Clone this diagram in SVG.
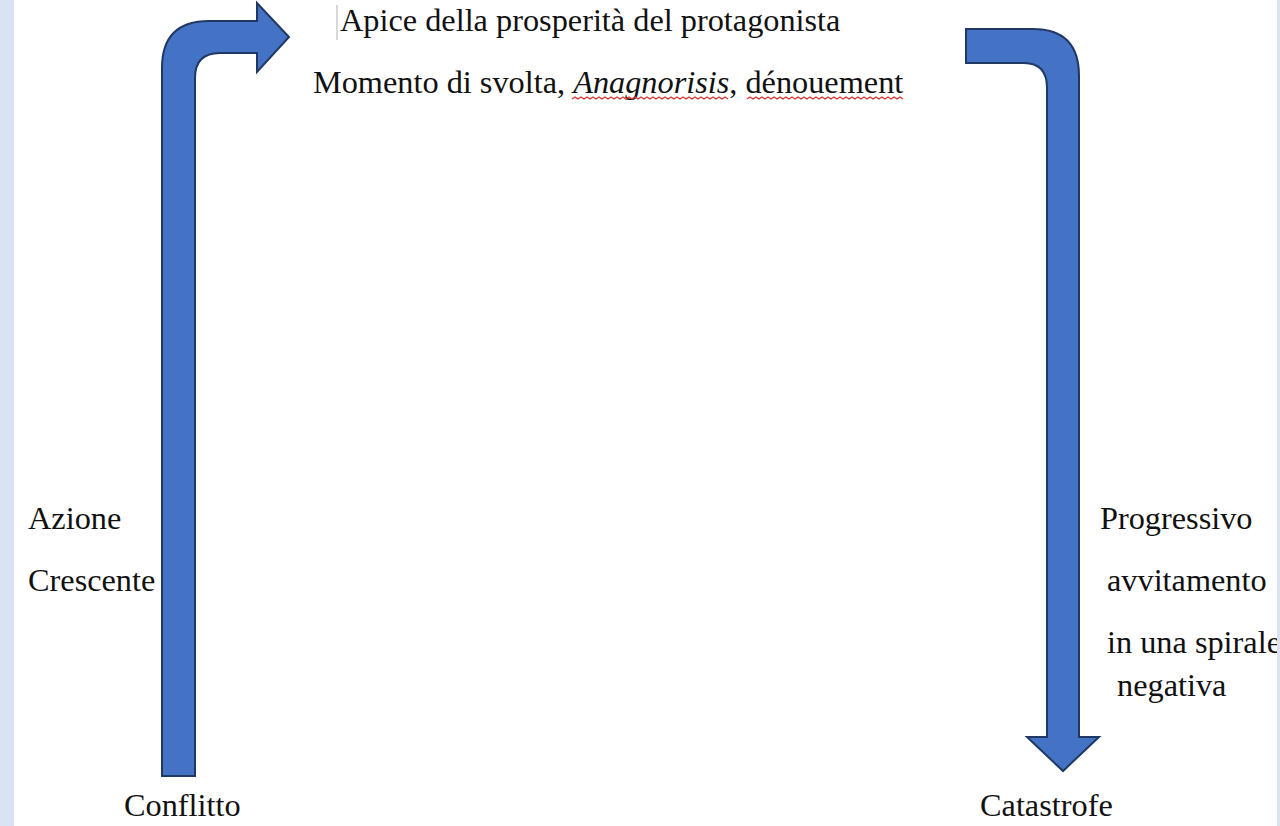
<svg xmlns="http://www.w3.org/2000/svg" width="1280" height="826" viewBox="0 0 1280 826">
<style>
.t{font-family:"Liberation Serif","Times New Roman","DejaVu Serif",serif;font-size:32.3px;fill:#111}
.arrow{fill:#4472C4;stroke:#1F3864;stroke-width:2;stroke-linejoin:miter}
.sq{fill:none;stroke:#E03030;stroke-width:1.2}
.strip{fill:#DAE3F3}
</style>
<rect x="0" y="0" width="1280" height="826" fill="#FFFFFF"/>
<rect class="strip" x="0" y="0" width="14" height="826"/>
<g id="connectors">
<g id="arrow-rise">
<path class="arrow" d="M162,776 L162,68 Q162,21 209,21 L257,21 L257,3 L289,37 L257,72 L257,53 L220,53 Q195,53 195,78 L195,776 Z"/>
</g>
<g id="arrow-fall">
<path class="arrow" d="M966,29 L1033,29 Q1079,29 1079,76 L1079,737 L1099,737 L1063,771 L1027,737 L1047,737 L1047,88 Q1047,63 1024,63 L966,63 Z"/>
</g>
</g>
<g id="node-apice">
<line x1="337" y1="5" x2="337" y2="40" stroke="#B0B0B0" stroke-width="1"/>
<text class="t" x="340" y="31">Apice della prosperità del protagonista</text>
</g>
<g id="node-svolta">
<text class="t" x="313" y="93">Momento di svolta, <tspan font-style="italic">Anagnorisis</tspan>, dénouement</text>
<path class="sq" d="M572,99 l3,-2 l3,2 l3,-2 l3,2 l3,-2 l3,2 l3,-2 l3,2 l3,-2 l3,2 l3,-2 l3,2 l3,-2 l3,2 l3,-2 l3,2 l3,-2 l3,2 l3,-2 l3,2 l3,-2 l3,2 l3,-2 l3,2 l3,-2 l3,2 l3,-2 l3,2 l3,-2 l3,2 l3,-2 l3,2 l3,-2 l3,2 l3,-2 l3,2 l3,-2 l3,2 l3,-2 l3,2 l3,-2 l3,2 l3,-2 l3,2 l3,-2 l3,2 l3,-2 l3,2 l3,-2 l3,2 l3,-2 l3,2"/>
<path class="sq" d="M747,99 l3,-2 l3,2 l3,-2 l3,2 l3,-2 l3,2 l3,-2 l3,2 l3,-2 l3,2 l3,-2 l3,2 l3,-2 l3,2 l3,-2 l3,2 l3,-2 l3,2 l3,-2 l3,2 l3,-2 l3,2 l3,-2 l3,2 l3,-2 l3,2 l3,-2 l3,2 l3,-2 l3,2 l3,-2 l3,2 l3,-2 l3,2 l3,-2 l3,2 l3,-2 l3,2 l3,-2 l3,2 l3,-2 l3,2 l3,-2 l3,2 l3,-2 l3,2 l3,-2 l3,2 l3,-2 l3,2 l3,-2 l3,2"/>
</g>
<g id="node-azione">
<text class="t" x="28" y="529">Azione</text>
<text class="t" x="28" y="591">Crescente</text>
</g>
<g id="node-conflitto">
<text class="t" x="124" y="816">Conflitto</text>
</g>
<g id="node-progressivo">
<text class="t" x="1100" y="529">Progressivo</text>
<text class="t" x="1107" y="591">avvitamento</text>
<text class="t" x="1107" y="653">in una spirale</text>
<text class="t" x="1117" y="696">negativa</text>
</g>
<g id="node-catastrofe">
<text class="t" x="980" y="816">Catastrofe</text>
</g>
<rect class="strip" x="1277" y="0" width="3" height="826"/>
</svg>
